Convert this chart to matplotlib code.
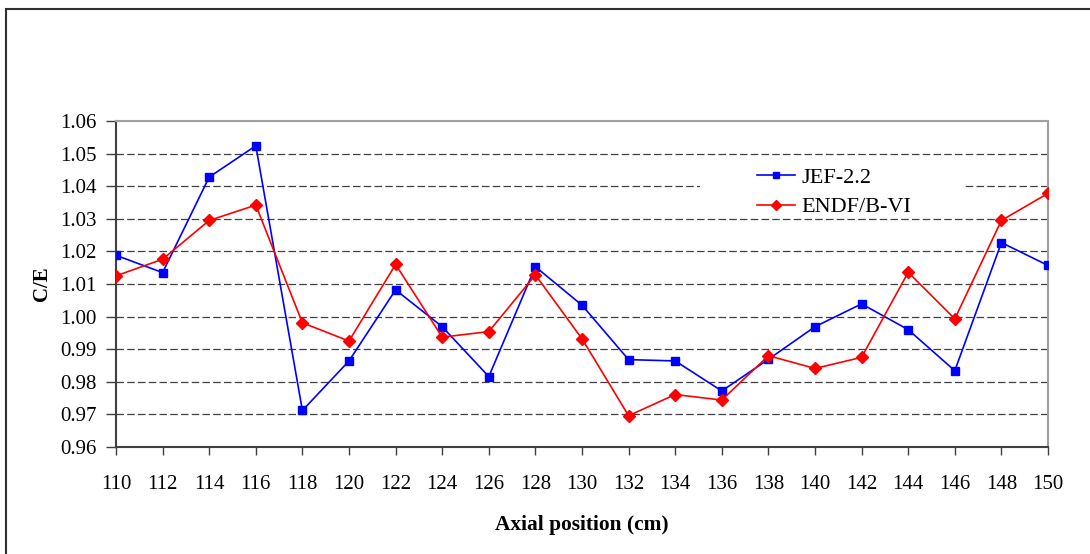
import matplotlib.pyplot as plt
from matplotlib.patches import Rectangle

# data
positions = list(range(110, 152, 2))
jef22 = [1.0188, 1.0135, 1.0428, 1.0524, 0.9712, 0.9864, 1.0082,
         0.9969, 0.9816, 1.0153, 1.0035, 0.9868, 0.9864, 0.9772,
         0.9869, 0.9969, 1.0039, 0.9960, 0.9834, 1.0227, 1.0157]
endfb6 = [1.0125, 1.0176, 1.0295, 1.0342, 0.9981, 0.9925, 1.0160,
          0.9937, 0.9954, 1.0128, 0.9932, 0.9696, 0.9761, 0.9744,
          0.9880, 0.9841, 0.9875, 1.0136, 0.9993, 1.0295, 1.0378]
yticks = [0.96, 0.97, 0.98, 0.99, 1.00, 1.01, 1.02, 1.03, 1.04, 1.05, 1.06]

plt.rcParams['font.family'] = ['Liberation Serif', 'DejaVu Serif']

W, H = 1090, 554
fig = plt.figure(figsize=(W / 100, H / 100), dpi=100)
ax = fig.add_axes([116 / W, 107 / H, (1048 - 116) / W, (447 - 121) / H])

# outer frame of the chart area
fig.add_artist(Rectangle((5.5 / W, -0.05), 1.2, (H - 9) / H + 0.05,
                         transform=fig.transFigure, fill=False,
                         edgecolor='#303030', linewidth=1.5))

ax.plot(positions, jef22, color='#0000ff', marker='s', markersize=5.5,
        linewidth=1.2, label='JEF-2.2', zorder=3)
ax.plot(positions, endfb6, color='#ff0000', marker='D', markersize=6.5,
        linewidth=1.2, label='ENDF/B-VI', zorder=3)

ax.set_xlim(110, 150)
ax.set_ylim(0.96, 1.06)
ax.set_xticks(positions)
ax.set_yticks(yticks)
ax.set_yticklabels(['%.2f' % v for v in yticks])

for v in yticks[1:-1]:
    ax.axhline(v, color='#404040', linewidth=0.9, dashes=(6, 2.6), zorder=1)

# white box behind the legend hides the gridlines there
ax.add_patch(Rectangle((700 / W, (H - 216) / H), 263 / W, 58 / H,
                       transform=fig.transFigure, facecolor='white',
                       edgecolor='none', zorder=2))

ax.tick_params(axis='x', direction='out', length=6, width=1, pad=14,
               labelsize=15, color='#404040')
ax.tick_params(axis='y', direction='out', length=7, width=1, pad=7,
               labelsize=15, color='#404040')

for s in ['left', 'bottom']:
    ax.spines[s].set_color('#404040')
    ax.spines[s].set_linewidth(1.5)
for s in ['top', 'right']:
    ax.spines[s].set_color('#a0a0a0')
    ax.spines[s].set_linewidth(1.5)

ax.set_xlabel('Axial position (cm)', fontsize=15.4, fontweight='bold', labelpad=15)
ax.set_ylabel('C/E', fontsize=15, fontweight='bold', labelpad=6)

leg = ax.legend(loc='upper left', bbox_to_anchor=(757 / W, (H - 167) / H),
                bbox_transform=fig.transFigure, fontsize=16, frameon=False,
                handlelength=1.7, borderaxespad=0, borderpad=0,
                labelspacing=0.42, handletextpad=0.3, markerscale=0.75)
leg.set_zorder(5)

fig.savefig('out.png', dpi=100)
